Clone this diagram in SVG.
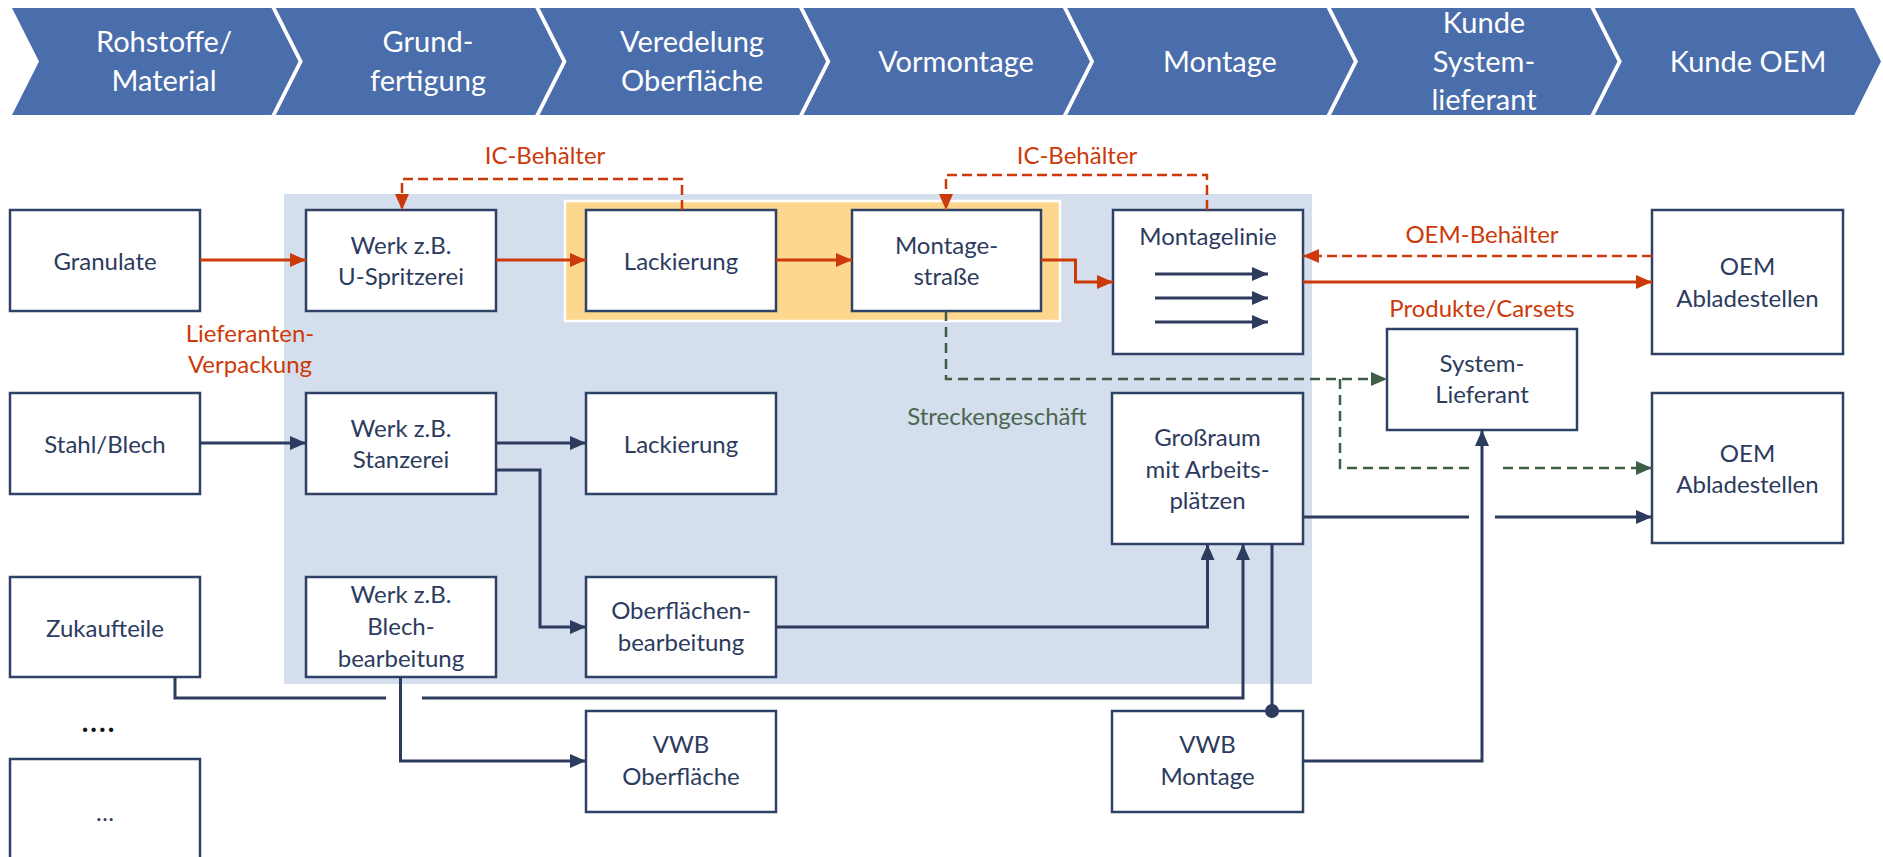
<svg xmlns="http://www.w3.org/2000/svg" width="1883" height="857" viewBox="0 0 1883 857">
  <defs>
    <style>
      .chev { fill: #4a6dab; }
      .hd { font-family: Lato, "Liberation Sans", sans-serif; font-size: 29px; fill: #ffffff; text-anchor: middle; }
      .box { fill: #ffffff; stroke: #2f4166; stroke-width: 2.5; }
      .nd { font-family: Lato, "Liberation Sans", sans-serif; font-size: 24px; fill: #2c3b5e; text-anchor: middle; }
      .lbl-red { font-family: Lato, "Liberation Sans", sans-serif; font-size: 24px; fill: #cc3a0a; text-anchor: middle; }
      .lbl-green { font-family: Lato, "Liberation Sans", sans-serif; font-size: 24px; fill: #4a6650; text-anchor: middle; }
      .red { fill: none; stroke: #cc3a0a; stroke-width: 3; }
      .red-dash { fill: none; stroke: #cc3a0a; stroke-width: 2.5; stroke-dasharray: 10 5; }
      .navy { fill: none; stroke: #2c3b5e; stroke-width: 3; }
      .green-dash { fill: none; stroke: #3f5e46; stroke-width: 2.5; stroke-dasharray: 10 6; }
    </style>
    <marker id="arrRed" viewBox="0 0 16 14" markerWidth="16" markerHeight="14" refX="16" refY="7" orient="auto" markerUnits="userSpaceOnUse">
      <path d="M0,0 L16,7 L0,14 z" fill="#cc3a0a"/>
    </marker>
    <marker id="arrNavy" viewBox="0 0 16 14" markerWidth="16" markerHeight="14" refX="16" refY="7" orient="auto" markerUnits="userSpaceOnUse">
      <path d="M0,0 L16,7 L0,14 z" fill="#2c3b5e"/>
    </marker>
    <marker id="arrGreen" viewBox="0 0 16 14" markerWidth="16" markerHeight="14" refX="16" refY="7" orient="auto" markerUnits="userSpaceOnUse">
      <path d="M0,0 L16,7 L0,14 z" fill="#3f5e46"/>
    </marker>
  </defs>

  <rect width="1883" height="857" fill="#ffffff"/>

  <!-- process chain header -->
  <g id="header">
    <polygon class="chev" points="12,8 271.5,8 298.5,61.5 271.5,115 12,115 39,61.5"/>
    <polygon class="chev" points="275.8,8 535.3,8 562.3,61.5 535.3,115 275.8,115 302.8,61.5"/>
    <polygon class="chev" points="539.6,8 799.1,8 826.1,61.5 799.1,115 539.6,115 566.6,61.5"/>
    <polygon class="chev" points="803.4,8 1062.9,8 1089.9,61.5 1062.9,115 803.4,115 830.4,61.5"/>
    <polygon class="chev" points="1067.2,8 1326.7,8 1353.7,61.5 1326.7,115 1067.2,115 1094.2,61.5"/>
    <polygon class="chev" points="1331,8 1590.5,8 1617.5,61.5 1590.5,115 1331,115 1358,61.5"/>
    <polygon class="chev" points="1594.8,8 1854.3,8 1881,61.5 1854.3,115 1594.8,115 1621.8,61.5"/>
    <text class="hd" x="164" y="52">Rohstoffe/<tspan x="164" y="91">Material</tspan></text>
    <text class="hd" x="428" y="52">Grund-<tspan x="428" y="91">fertigung</tspan></text>
    <text class="hd" x="692" y="52">Veredelung<tspan x="692" y="91">Oberfläche</tspan></text>
    <text class="hd" x="956" y="72">Vormontage</text>
    <text class="hd" x="1220" y="72">Montage</text>
    <text class="hd" x="1484" y="33">Kunde<tspan x="1484" y="72">System-</tspan><tspan x="1484" y="110">lieferant</tspan></text>
    <text class="hd" x="1748" y="72">Kunde OEM</text>
  </g>

  <!-- plant area and painting/assembly cell -->
  <rect id="plant-area" x="284" y="194" width="1028" height="490" fill="#d5deec"/>
  <rect id="cell" x="565" y="201" width="495" height="120" fill="#fdd78e" stroke="#ffffff" stroke-width="2.5"/>

  <!-- nodes -->
  <g id="granulate">
    <rect class="box" x="10" y="210" width="190" height="101"/>
    <text class="nd" x="105" y="270">Granulate</text>
  </g>
  <g id="werk-spritzerei">
    <rect class="box" x="306" y="210" width="190" height="101"/>
    <text class="nd" x="401" y="254">Werk z.B.<tspan x="401" y="285">U-Spritzerei</tspan></text>
  </g>
  <g id="lackierung-1">
    <rect class="box" x="586" y="210" width="190" height="101"/>
    <text class="nd" x="681" y="270">Lackierung</text>
  </g>
  <g id="montagestrasse">
    <rect class="box" x="852" y="210" width="189" height="101"/>
    <text class="nd" x="946.5" y="254">Montage-<tspan x="946.5" y="285">straße</tspan></text>
  </g>
  <g id="montagelinie">
    <rect class="box" x="1113" y="210" width="190" height="144"/>
    <text class="nd" x="1208" y="245">Montagelinie</text>
    <line class="navy" x1="1155" y1="274" x2="1268" y2="274" marker-end="url(#arrNavy)"/>
    <line class="navy" x1="1155" y1="298" x2="1268" y2="298" marker-end="url(#arrNavy)"/>
    <line class="navy" x1="1155" y1="322" x2="1268" y2="322" marker-end="url(#arrNavy)"/>
  </g>
  <g id="oem-1">
    <rect class="box" x="1652" y="210" width="191" height="144"/>
    <text class="nd" x="1747.5" y="275">OEM<tspan x="1747.5" y="307">Abladestellen</tspan></text>
  </g>
  <g id="system-lieferant">
    <rect class="box" x="1387" y="329" width="190" height="101"/>
    <text class="nd" x="1482" y="372">System-<tspan x="1482" y="403">Lieferant</tspan></text>
  </g>
  <g id="oem-2">
    <rect class="box" x="1652" y="393" width="191" height="150"/>
    <text class="nd" x="1747.5" y="462">OEM<tspan x="1747.5" y="493">Abladestellen</tspan></text>
  </g>
  <g id="stahl-blech">
    <rect class="box" x="10" y="393" width="190" height="101"/>
    <text class="nd" x="105" y="453">Stahl/Blech</text>
  </g>
  <g id="werk-stanzerei">
    <rect class="box" x="306" y="393" width="190" height="101"/>
    <text class="nd" x="401" y="437">Werk z.B.<tspan x="401" y="468">Stanzerei</tspan></text>
  </g>
  <g id="lackierung-2">
    <rect class="box" x="586" y="393" width="190" height="101"/>
    <text class="nd" x="681" y="453">Lackierung</text>
  </g>
  <g id="grossraum">
    <rect class="box" x="1112" y="393" width="191" height="151"/>
    <text class="nd" x="1207.5" y="446">Großraum<tspan x="1207.5" y="478">mit Arbeits-</tspan><tspan x="1207.5" y="509">plätzen</tspan></text>
  </g>
  <g id="zukaufteile">
    <rect class="box" x="10" y="577" width="190" height="100"/>
    <text class="nd" x="105" y="637">Zukaufteile</text>
  </g>
  <g id="werk-blechbearbeitung">
    <rect class="box" x="306" y="577" width="190" height="100"/>
    <text class="nd" x="401" y="603">Werk z.B.<tspan x="401" y="635">Blech-</tspan><tspan x="401" y="667">bearbeitung</tspan></text>
  </g>
  <g id="oberflaechenbearbeitung">
    <rect class="box" x="586" y="577" width="190" height="100"/>
    <text class="nd" x="681" y="619">Oberflächen-<tspan x="681" y="651">bearbeitung</tspan></text>
  </g>
  <g id="vwb-oberflaeche">
    <rect class="box" x="586" y="711" width="190" height="101"/>
    <text class="nd" x="681" y="753">VWB<tspan x="681" y="785">Oberfläche</tspan></text>
  </g>
  <g id="vwb-montage">
    <rect class="box" x="1112" y="711" width="191" height="101"/>
    <text class="nd" x="1207.5" y="753">VWB<tspan x="1207.5" y="785">Montage</tspan></text>
  </g>
  <g id="more-dots">
    <text x="99" y="732" style="font-family: Lato, 'Liberation Sans', sans-serif; font-size: 28px; font-weight: bold; fill: #111111; text-anchor: middle; letter-spacing: 2px">....</text>
  </g>
  <g id="weitere">
    <rect class="box" x="10" y="759" width="190" height="120"/>
    <text class="nd" x="105" y="821">…</text>
  </g>

  <!-- connectors -->
  <g id="connectors">
    <!-- material flow (red) -->
    <line class="red" x1="200" y1="260" x2="306" y2="260" marker-end="url(#arrRed)"/>
    <line class="red" x1="496" y1="260" x2="586" y2="260" marker-end="url(#arrRed)"/>
    <line class="red" x1="776" y1="260" x2="852" y2="260" marker-end="url(#arrRed)"/>
    <polyline class="red" points="1041,260 1075.5,260 1075.5,282 1113,282" marker-end="url(#arrRed)"/>
    <line class="red" x1="1303" y1="282" x2="1652" y2="282" marker-end="url(#arrRed)"/>

    <!-- container returns (red dashed) -->
    <polyline class="red-dash" points="682,210 682,179 402,179 402,210" marker-end="url(#arrRed)"/>
    <polyline class="red-dash" points="1207,210 1207,175 946,175 946,210" marker-end="url(#arrRed)"/>
    <line class="red-dash" x1="1652" y1="256" x2="1303" y2="256" marker-end="url(#arrRed)"/>

    <!-- drop shipment (green dashed) -->
    <polyline class="green-dash" points="946,311 946,379 1387,379" marker-end="url(#arrGreen)"/>
    <polyline class="green-dash" points="1340,379 1340,468 1469,468"/>
    <line class="green-dash" x1="1503" y1="468" x2="1652" y2="468" marker-end="url(#arrGreen)"/>

    <!-- sheet metal and purchased parts (navy) -->
    <line class="navy" x1="200" y1="443" x2="306" y2="443" marker-end="url(#arrNavy)"/>
    <line class="navy" x1="496" y1="443" x2="586" y2="443" marker-end="url(#arrNavy)"/>
    <polyline class="navy" points="496,470 540,470 540,627 586,627" marker-end="url(#arrNavy)"/>
    <polyline class="navy" points="776,627 1207.5,627 1207.5,544" marker-end="url(#arrNavy)"/>
    <polyline class="navy" points="175,677 175,698 386,698"/>
    <polyline class="navy" points="422,698 1243,698 1243,544" marker-end="url(#arrNavy)"/>
    <polyline class="navy" points="400.5,677 400.5,761 586,761" marker-end="url(#arrNavy)"/>
    <line class="navy" x1="1272" y1="544" x2="1272" y2="711"/>
    <circle cx="1272" cy="711" r="7" fill="#2c3b5e"/>
    <line class="navy" x1="1303" y1="517" x2="1469" y2="517"/>
    <line class="navy" x1="1495" y1="517" x2="1652" y2="517" marker-end="url(#arrNavy)"/>
    <polyline class="navy" points="1303,761 1482,761 1482,430" marker-end="url(#arrNavy)"/>
  </g>

  <!-- flow labels -->
  <g id="labels">
    <text class="lbl-red" x="545" y="164">IC-Behälter</text>
    <text class="lbl-red" x="1077" y="164">IC-Behälter</text>
    <text class="lbl-red" x="1482" y="243">OEM-Behälter</text>
    <text class="lbl-red" x="1482" y="317">Produkte/Carsets</text>
    <text class="lbl-red" x="250" y="342">Lieferanten-<tspan x="250" y="373">Verpackung</tspan></text>
    <text class="lbl-green" x="997" y="425">Streckengeschäft</text>
  </g>
</svg>
